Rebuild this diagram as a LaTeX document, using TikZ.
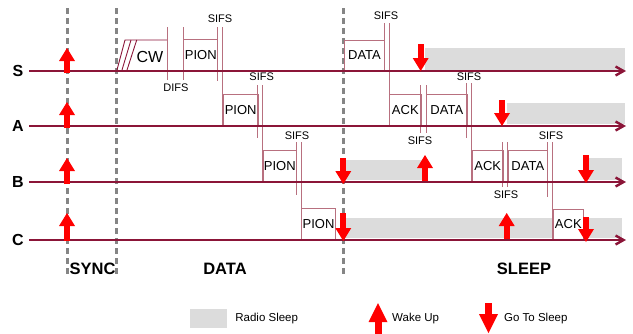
\documentclass[tikz,border=0pt]{standalone}
\usepackage{fontspec}
\setmainfont{Liberation Sans}
\usetikzlibrary{arrows.meta,positioning}
\definecolor{tlred}{HTML}{8B1538}
\definecolor{boxrose}{HTML}{B8707F}
\definecolor{syncgray}{HTML}{858585}
\definecolor{sleepgray}{HTML}{DCDCDC}
\newcommand{\fsz}[1]{\fontsize{#1}{#1}\selectfont}
\tikzset{
  tline/.style={line width=2.4pt, color=tlred, -{Straight Barb[length=8pt, width=9pt]}},
  slot/.style={draw=boxrose, fill=white, line width=1pt, inner sep=0pt, anchor=south west, font=\fsz{13}},
  ifs/.style={draw=boxrose, line width=1pt},
  ifslbl/.style={font=\fsz{11}, inner sep=0pt},
  sleepbar/.style={fill=sleepgray, draw=none},
  phase/.style={font=\bfseries\fsz{16.5}},
  rowlbl/.style={font=\bfseries\fsz{16}},
  sep/.style={syncgray, line width=3pt, dash pattern=on 6pt off 4pt},
  wake/.style={red, line width=6pt, -{Triangle[length=13pt, width=16pt, line width=0pt]}},
  legarr/.style={red, line width=7pt, -{Triangle[length=19pt, width=19pt, line width=0pt]}},
  legtxt/.style={font=\fsz{11.5}, inner sep=0pt},
}
\begin{document}
\begin{tikzpicture}[x=1pt, y=-1pt]
  \useasboundingbox (0,0) rectangle (633,333);
  % radio sleep periods
  \fill[sleepbar] (425,48) rectangle (625,70);
  \fill[sleepbar] (507,103) rectangle (625,124);
  \fill[sleepbar] (345,160) rectangle (423,180);
  \fill[sleepbar] (588,158) rectangle (622,180);
  \fill[sleepbar] (345,218) rectangle (622,238);
  % phase borders
  \foreach \x in {67.7,116.7,343.3} \draw[sep] (\x,8) -- (\x,277);
  % frames
  \node[slot, minimum width=34pt, minimum height=31pt] (pionS) at (183.3,71) {PION};
  \node[slot, minimum width=35pt, minimum height=31pt] (pionA) at (222.7,126) {PION};
  \node[slot, minimum width=33.3pt, minimum height=31pt] (pionB) at (262.7,182) {PION};
  \node[slot, minimum width=34pt, minimum height=31pt] (pionC) at (301,240) {PION};
  \node[slot, minimum width=40pt, minimum height=30.5pt] (dataS) at (344,71) {DATA};
  \node[slot, minimum width=31.7pt, minimum height=31pt] (ackA) at (389,126) {ACK};
  \node[slot, minimum width=40.7pt, minimum height=31pt] (dataA) at (426,126) {DATA};
  \node[slot, minimum width=31pt, minimum height=31pt] (ackB) at (471.7,182) {ACK};
  \node[slot, minimum width=39.3pt, minimum height=31pt] (dataB) at (507.7,182) {DATA};
  \node[slot, minimum width=30.3pt, minimum height=30.5pt] (ackC) at (552.7,240) {ACK};
  % contention window
  \node[font=\fsz{16}, inner sep=0pt] (cw) at (150,57) {CW};
  \draw[tlred, line width=0.9pt] (116.7,71) -- (125,40) -- (167.7,40);
  \draw[tlred, line width=0.9pt] (121.7,71) -- (131,40) (126.7,71) -- (136.7,40);
  % interframe spaces
  \foreach \x/\ya/\yb in {167.7/27/80, 183.3/27/80, 217.3/27/81, 222.7/27/126,
    257.7/85/138, 262.7/85/182, 296/142/195, 301/142/240,
    384/23/71, 389/23/126, 420.7/85/133, 426/85/133, 466.7/83/138, 471.7/83/182,
    502.7/142/187, 507.7/142/187, 547/142/197, 552.7/142/240}
    \draw[ifs] (\x,\ya) -- (\x,\yb);
  \node[ifslbl] (difs) at (176,88) {DIFS};
  \foreach \nm/\x/\y in {s1/220/19, s2/261.7/77, s3/297/136, s4/386/16,
    s5/469/77, s6/551/136, s7/420/141, s8/506/195}
    \node[ifslbl] (\nm) at (\x,\y) {SIFS};
  % time lines
  \foreach \r/\y in {S/71, A/126, B/182, C/240}{
    \node[rowlbl] (lbl\r) at (18,\y) {\r};
    \coordinate (tb\r) at (29,\y);
    \coordinate (te\r) at (626,\y);
    \draw[tline] (tb\r) -- (te\r);
  }
  % wake up / go to sleep
  \foreach \nm/\x/\ya/\yb in {wS/67/73/48, wA/67/128/102, wB/67/184/158, wC/67/241/213,
    wB2/425/181/155, wC2/506.7/239/213,
    gS/420.7/44/71, gA/502/100/126, gB/343.3/158/184, gC/343.3/213/241,
    gB2/586/155/183, gC2/586/217/242}
  {
    \coordinate (\nm) at (\x,\ya);
    \draw[wake] (\nm) -- (\x,\yb);
  }
  % phases
  \node[phase] (sync) at (92.5,269) {SYNC};
  \node[phase] (data) at (225,269) {DATA};
  \node[phase] (sleep) at (524,269) {SLEEP};
  % legend
  \node[sleepbar, minimum width=37pt, minimum height=19pt, inner sep=0pt] (legsleep) at (208.5,318.5) {};
  \node[legtxt, right=8pt of legsleep] (legsleeptxt) {Radio Sleep};
  \coordinate (legwake) at (378,336);
  \draw[legarr] (legwake) -- (378,303);
  \node[legtxt, anchor=west] (legwaketxt) at (392,319) {Wake Up};
  \coordinate (leggo) at (488.5,303);
  \draw[legarr] (leggo) -- (488.5,333);
  \node[legtxt, anchor=west] (leggotxt) at (504,319) {Go To Sleep};
\end{tikzpicture}
\end{document}
